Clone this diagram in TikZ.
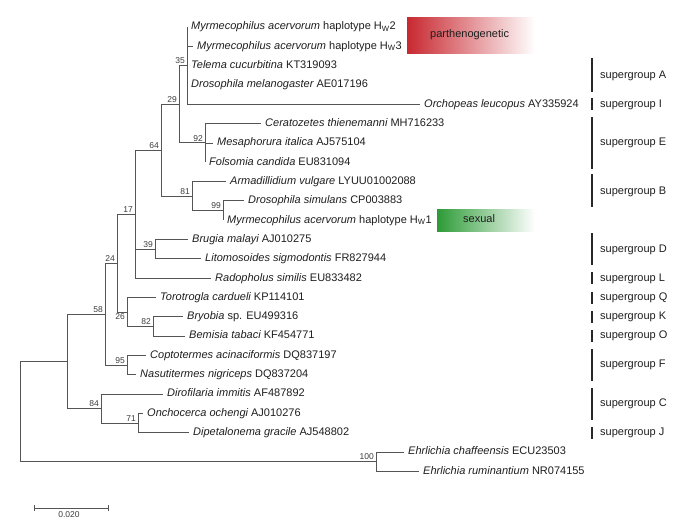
\documentclass[tikz,border=0pt]{standalone}
\usepackage{fontspec}
\setmainfont{Liberation Sans}
\definecolor{linec}{RGB}{85,85,85}
\definecolor{txt}{RGB}{30,30,30}
\definecolor{bsc}{RGB}{60,60,60}
\definecolor{barc}{RGB}{40,40,40}
\definecolor{pred}{RGB}{200,40,48}
\definecolor{pgreen}{RGB}{45,155,55}
\begin{document}
\begin{tikzpicture}[x=1pt,y=-1pt,
  br/.style={draw=linec, line width=0.9pt},
  leaf/.style={anchor=west, inner xsep=4pt, inner ysep=0pt, font=\fontsize{11}{13}\selectfont, text=txt, text height=7.9pt, text depth=2.3pt},
  bs/.style={anchor=south east, inner sep=0pt, font=\fontsize{8.5}{10}\selectfont, text=bsc, xshift=-2pt, yshift=1.6pt},
  sg/.style={anchor=west, inner sep=0pt, font=\fontsize{11}{13}\selectfont, text=txt, text height=7.9pt, text depth=2.3pt},
  sgbar/.style={draw=barc, line width=1.6pt},
  tag/.style={anchor=west, inner sep=0pt, font=\fontsize{11}{13}\selectfont, text=txt, text height=7.9pt, text depth=2.3pt},
]
\useasboundingbox (0,0) rectangle (685,531);

% coloured tags
\shade[left color=pred, right color=white] (407,17) rectangle (535,53);
\node[tag] (parth) at (430,35) {parthenogenetic};
\shade[left color=pgreen, right color=white] (437,209) rectangle (535,231);
\node[tag] (sex) at (463,220) {sexual};

% leaves
\node[leaf] (l1) at (187,27.0) {{\itshape Myrmecophilus acervorum} haplotype H\textsubscript{W}2};
\node[leaf] (l2) at (193,46.3) {{\itshape Myrmecophilus acervorum} haplotype H\textsubscript{W}3};
\node[leaf] (l3) at (187,65.6) {{\itshape Telema cucurbitina} KT319093};
\node[leaf] (l4) at (187,85.0) {{\itshape Drosophila melanogaster} AE017196};
\node[leaf] (l5) at (420,104.3) {{\itshape Orchopeas leucopus} AY335924};
\node[leaf] (l6) at (261,123.6) {{\itshape Ceratozetes thienemanni} MH716233};
\node[leaf] (l7) at (213,143.0) {{\itshape Mesaphorura italica} AJ575104};
\node[leaf] (l8) at (205,162.2) {{\itshape Folsomia candida} EU831094};
\node[leaf] (l9) at (226,181.6) {{\itshape Armadillidium vulgare} LYUU01002088};
\node[leaf] (l10) at (244,200.9) {{\itshape Drosophila simulans} CP003883};
\node[leaf] (l11) at (223,220.2) {{\itshape Myrmecophilus acervorum} haplotype H\textsubscript{W}1};
\node[leaf] (l12) at (188,239.5) {{\itshape Brugia malayi} AJ010275};
\node[leaf] (l13) at (201,258.8) {{\itshape Litomosoides sigmodontis} FR827944};
\node[leaf] (l14) at (211,278.2) {{\itshape Radopholus similis} EU833482};
\node[leaf] (l15) at (156,297.5) {{\itshape Torotrogla cardueli} KP114101};
\node[leaf] (l16) at (183,316.8) {{\itshape Bryobia} sp. EU499316};
\node[leaf] (l17) at (185,336.1) {{\itshape Bemisia tabaci} KF454771};
\node[leaf] (l18) at (146,355.4) {{\itshape Coptotermes acinaciformis} DQ837197};
\node[leaf] (l19) at (136,374.8) {{\itshape Nasutitermes nigriceps} DQ837204};
\node[leaf] (l20) at (163,394.1) {{\itshape Dirofilaria immitis} AF487892};
\node[leaf] (l21) at (143,413.4) {{\itshape Onchocerca ochengi} AJ010276};
\node[leaf] (l22) at (189,432.7) {{\itshape Dipetalonema gracile} AJ548802};
\node[leaf] (l23) at (404,452.0) {{\itshape Ehrlichia chaffeensis} ECU23503};
\node[leaf] (l24) at (419,471.4) {{\itshape Ehrlichia ruminantium} NR074155};

% internal nodes
\coordinate (n35) at (187,65.7);
\coordinate (n92) at (205,142.9);
\coordinate (n29) at (179,104.3);
\coordinate (n99) at (223,210.6);
\coordinate (n81) at (192,196.1);
\coordinate (n64) at (161,150.2);
\coordinate (n39) at (155,249.2);
\coordinate (n17) at (135,214.2);
\coordinate (n82) at (153,326.5);
\coordinate (n26) at (127,312.0);
\coordinate (n24) at (117,263.1);
\coordinate (n95) at (127,365.1);
\coordinate (n58) at (105,314.1);
\coordinate (n71) at (138,423.1);
\coordinate (n84) at (101,408.6);
\coordinate (nA) at (67,361.3);
\coordinate (n100) at (376,461.7);
\coordinate (root) at (20,411.5);

% branches
\foreach \c in {l1,l2,l3,l4,l5} \draw[br] (n35) |- (\c.west);
\draw[br] (n29) |- (n35);  \draw[br] (n29) |- (n92);
\foreach \c in {l6,l7,l8} \draw[br] (n92) |- (\c.west);
\draw[br] (n64) |- (n29);  \draw[br] (n64) |- (n81);
\draw[br] (n81) |- (l9.west);  \draw[br] (n81) |- (n99);
\draw[br] (n99) |- (l10.west); \draw[br] (n99) |- (l11.west);
\draw[br] (n17) |- (n64); \draw[br] (n17) |- (n39); \draw[br] (n17) |- (l14.west);
\draw[br] (n39) |- (l12.west); \draw[br] (n39) |- (l13.west);
\draw[br] (n24) |- (n17); \draw[br] (n24) |- (n26);
\draw[br] (n26) |- (l15.west); \draw[br] (n26) |- (n82);
\draw[br] (n82) |- (l16.west); \draw[br] (n82) |- (l17.west);
\draw[br] (n58) |- (n24); \draw[br] (n58) |- (n95);
\draw[br] (n95) |- (l18.west); \draw[br] (n95) |- (l19.west);
\draw[br] (nA) |- (n58); \draw[br] (nA) |- (n84);
\draw[br] (n84) |- (l20.west); \draw[br] (n84) |- (n71);
\draw[br] (n71) |- (l21.west); \draw[br] (n71) |- (l22.west);
\draw[br] (root) |- (nA); \draw[br] (root) |- (n100);
\draw[br] (n100) |- (l23.west); \draw[br] (n100) |- (l24.west);

% bootstrap values
\node[bs] (b35) at (n35) {35};
\node[bs] (b29) at (n29) {29};
\node[bs] (b92) at (n92) {92};
\node[bs] (b64) at (n64) {64};
\node[bs] (b81) at (n81) {81};
\node[bs] (b99) at (n99) {99};
\node[bs] (b17) at (n17) {17};
\node[bs] (b39) at (n39) {39};
\node[bs] (b24) at (n24) {24};
\node[bs, anchor=north east, yshift=-3.2pt] (b26) at (n26) {26};
\node[bs] (b82) at (n82) {82};
\node[bs] (b58) at (n58) {58};
\node[bs] (b95) at (n95) {95};
\node[bs] (b84) at (n84) {84};
\node[bs] (b71) at (n71) {71};
\node[bs] (b100) at (n100) {100};

% supergroups
\draw[sgbar] (592,58) -- (592,92);   \node[sg] (sgA) at (600,75.3) {supergroup A};
\draw[sgbar] (592,98) -- (592,110);  \node[sg] (sgI) at (600,104.3) {supergroup I};
\draw[sgbar] (592,117) -- (592,169); \node[sg] (sgE) at (600,143.0) {supergroup E};
\draw[sgbar] (592,174) -- (592,207); \node[sg] (sgB) at (600,191.2) {supergroup B};
\draw[sgbar] (592,233) -- (592,265); \node[sg] (sgD) at (600,249.2) {supergroup D};
\draw[sgbar] (592,272) -- (592,284); \node[sg] (sgL) at (600,278.2) {supergroup L};
\draw[sgbar] (592,291.5) -- (592,303.5); \node[sg] (sgQ) at (600,297.5) {supergroup Q};
\draw[sgbar] (592,311) -- (592,323); \node[sg] (sgK) at (600,316.8) {supergroup K};
\draw[sgbar] (592,330) -- (592,342); \node[sg] (sgO) at (600,336.1) {supergroup O};
\draw[sgbar] (592,349) -- (592,381); \node[sg] (sgF) at (600,365.1) {supergroup F};
\draw[sgbar] (592,388) -- (592,420); \node[sg] (sgC) at (600,403.7) {supergroup C};
\draw[sgbar] (592,427) -- (592,439); \node[sg] (sgJ) at (600,432.7) {supergroup J};

% scale bar
\coordinate (sb1) at (34,508);
\coordinate (sb2) at (108,508);
\draw[br] (sb1) -- (sb2);
\draw[br] ([yshift=3pt]sb1) -- ([yshift=-3pt]sb1);
\draw[br] ([yshift=3pt]sb2) -- ([yshift=-3pt]sb2);
\node[bs, anchor=north, xshift=0pt, yshift=0pt] (sbl) at (71,512.5) {0.020};
\end{tikzpicture}
\end{document}
